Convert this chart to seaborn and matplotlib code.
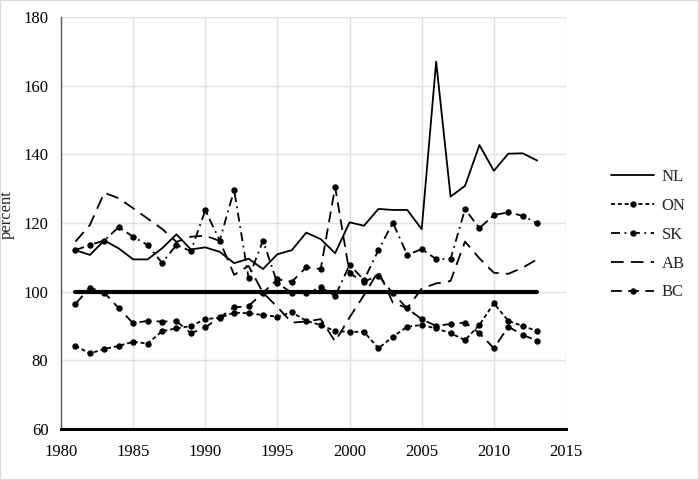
import matplotlib
matplotlib.use("Agg")
import matplotlib.pyplot as plt
import seaborn as sns
import numpy as np
import pandas as pd
from matplotlib.patches import Rectangle

years = list(range(1981, 2014))

NL = [112.1, 110.7, 114.9, 112.6, 109.4, 109.4, 112.6, 116.7, 112.3, 112.9,
      111.6, 108.3, 109.6, 106.6, 110.9, 112.1, 117.2, 115.3, 111.2, 120.2,
      119.2, 124.1, 123.8, 123.8, 118.2, 167.0, 127.7, 130.8, 142.7, 135.2,
      140.2, 140.3, 138.2]
ON = [84.2, 82.0, 83.3, 84.2, 85.4, 84.9, 88.5, 89.3, 90.0, 92.0,
      92.4, 93.9, 93.7, 93.2, 92.7, 94.0, 91.5, 90.3, 88.5, 88.3,
      88.3, 83.5, 86.9, 89.8, 90.3, 89.3, 87.9, 85.9, 90.3, 96.6,
      91.5, 90.0, 88.5]
SK = [112.1, 113.6, 114.9, 118.8, 116.0, 113.6, 108.4, 113.6, 111.8, 123.7,
      114.9, 129.6, 103.9, 114.9, 102.4, 99.7, 99.5, 101.3, 98.7, 107.8,
      103.4, 112.1, 120.1, 110.7, 112.4, 109.5, 109.5, 124.0, 118.5, 122.3,
      123.1, 122.1, 119.9]
AB = [114.6, 119.4, 128.8, 127.2, 124.3, 121.3, 118.3, 114.5, 116.0, 116.3,
      114.8, 104.9, 107.5, 99.7, 95.5, 91.0, 91.3, 92.0, 85.5, 92.5,
      99.0, 106.0, 96.8, 95.2, 100.9, 102.4, 103.1, 114.6, 109.7, 105.5,
      105.2, 107.0, 109.4]
BC = [96.4, 101.2, 99.7, 95.2, 90.8, 91.5, 91.3, 91.4, 87.9, 89.6,
      92.5, 95.4, 95.8, 99.7, 103.6, 102.9, 107.1, 106.6, 130.5, 105.3,
      102.9, 104.7, 99.5, 95.1, 92.0, 90.0, 90.6, 91.0, 87.9, 83.5,
      89.8, 87.4, 85.7]
BASE = [100.0] * len(years)

x_ticks = [1980, 1985, 1990, 1995, 2000, 2005, 2010, 2015]
y_ticks = [60, 80, 100, 120, 140, 160, 180]

sns.set_theme(style="white")
plt.rcParams['font.family'] = ['Liberation Serif', 'DejaVu Serif']

fig = plt.figure(figsize=(6.99, 4.80), dpi=100)
ax = fig.add_axes([61/699, 1-429/480, (566-61)/699, (429-17)/480])

fs = 12
ms = 4.6
sns.lineplot(x=years, y=BASE, ax=ax, color='black', lw=3.0, label='_nolegend_')
sns.lineplot(x=years, y=NL, ax=ax, color='black', lw=1.3, label='NL')
sns.lineplot(x=years, y=ON, ax=ax, color='black', lw=1.3, linestyle=(0, (2.2, 1.6)),
             marker='o', markersize=ms, markeredgewidth=0, label='ON')
sns.lineplot(x=years, y=SK, ax=ax, color='black', lw=1.3, linestyle=(0, (5, 2.5, 1, 2.5)),
             marker='o', markersize=ms, markeredgewidth=0, label='SK')
sns.lineplot(x=years, y=AB, ax=ax, color='black', lw=1.3, linestyle=(0, (7, 4)),
             label='AB')
sns.lineplot(x=years, y=BC, ax=ax, color='black', lw=1.3, linestyle=(0, (6, 3.5)),
             marker='o', markersize=ms, markeredgewidth=0, label='BC')

ax.set_xlim(1980, 2015)
ax.set_ylim(60, 180)
ax.set_xticks(x_ticks)
ax.set_yticks(y_ticks)
ax.grid(True, color='#e0e0e0', lw=1.0)
ax.set_axisbelow(True)
for s in ['top', 'right']:
    ax.spines[s].set_visible(False)
ax.spines['left'].set_color('#595959')
ax.spines['left'].set_linewidth(1.0)
ax.spines['bottom'].set_color('black')
ax.spines['bottom'].set_linewidth(2.2)
ax.tick_params(axis='both', length=0, labelsize=fs, colors='black')
ax.tick_params(axis='y', pad=9)
ax.tick_params(axis='x', pad=11)
ax.set_xlabel('')
ax.set_ylabel('percent', fontsize=fs)
ax.yaxis.set_label_coords(-0.092, 0.52)

leg = ax.legend(loc='upper left', bbox_to_anchor=(611/699, 1-169/480),
                bbox_transform=fig.transFigure, frameon=False, fontsize=fs,
                handlelength=2.6, labelspacing=0.77, handletextpad=0.45,
                borderaxespad=0, borderpad=0)

fig.patches.append(Rectangle((0, 0), 1, 1, transform=fig.transFigure, fill=False,
                             edgecolor='#d9d9d9', lw=1.5))
fig.savefig('out.png', dpi=100)
